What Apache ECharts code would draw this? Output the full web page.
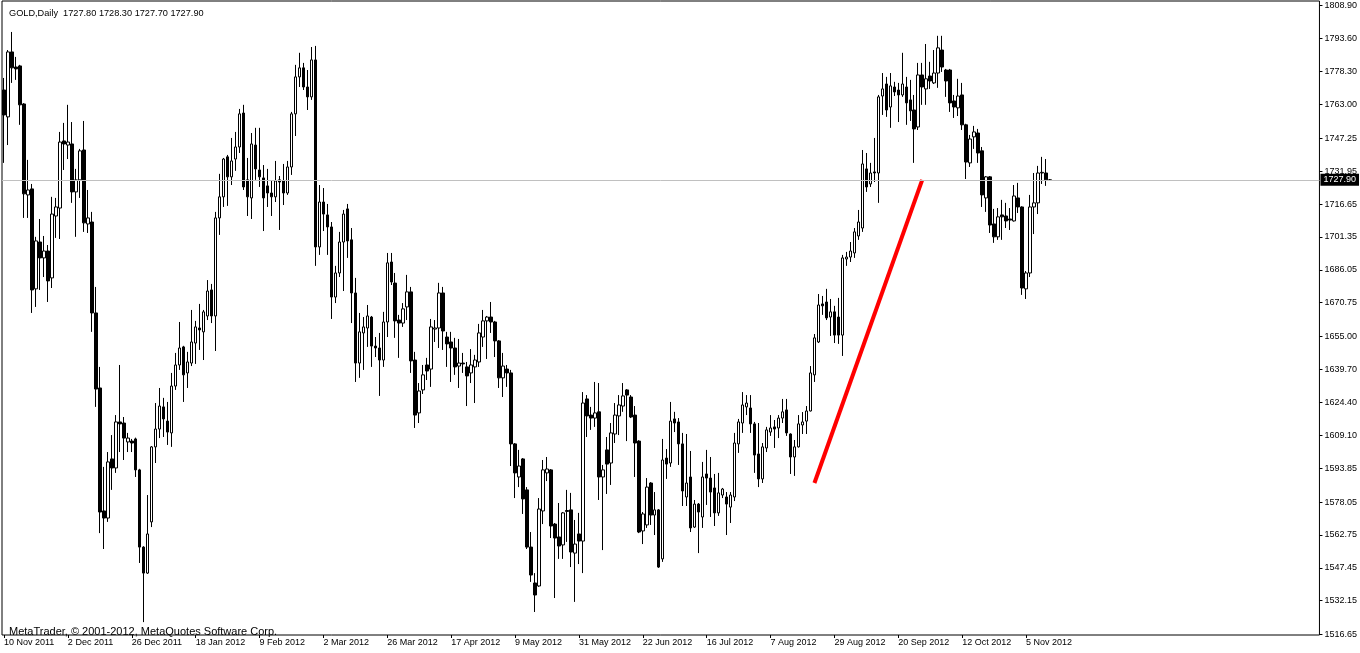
<!DOCTYPE html>
<html>
<head>
<meta charset="utf-8">
<script src="https://cdn.jsdelivr.net/npm/echarts@6.0.0/dist/echarts.min.js"></script>
<style>
html,body{margin:0;padding:0;background:#fff;}
#chart{width:1360px;height:653px;}
</style>
</head>
<body>
<div id="chart"></div>
<script>
const symbolTitle = "GOLD,Daily  1727.80 1728.30 1727.70 1727.90";
const footerText = "MetaTrader, \u00A9 2001-2012, MetaQuotes Software Corp.";
const dateLabels = ["10 Nov 2011","2 Dec 2011","26 Dec 2011","18 Jan 2012","9 Feb 2012","2 Mar 2012","26 Mar 2012","17 Apr 2012","9 May 2012","31 May 2012","22 Jun 2012","16 Jul 2012","7 Aug 2012","29 Aug 2012","20 Sep 2012","12 Oct 2012","5 Nov 2012"];
const priceTicks = [1808.90,1793.60,1778.30,1763.00,1747.25,1731.95,1716.65,1701.35,1686.05,1670.75,1655.00,1639.70,1624.40,1609.10,1593.85,1578.05,1562.75,1547.45,1532.15,1516.65];
const lastPrice = 1727.90;
const trendLine = [[203,1586.9],[230,1727.9]];

const opens = [1769.7,1757.2,1787.4,1780.4,1780.9,1763.2,1720.9,1723.7,1677.2,1699.0,1691.6,1694.8,1682.3,1711.1,1714.8,1746.0,1744.1,1744.6,1722.3,1727.9,1741.8,1707.4,1708.3,1666.0,1631.1,1573.9,1570.6,1598.1,1593.9,1615.3,1614.8,1606.0,1606.4,1607.4,1593.0,1557.1,1545.0,1568.8,1603.7,1612.0,1622.3,1615.7,1610.2,1632.0,1641.8,1650.2,1638.1,1642.7,1652.0,1659.0,1657.2,1664.6,1676.7,1664.6,1710.2,1720.0,1738.6,1729.3,1737.6,1743.2,1759.0,1727.9,1719.5,1744.1,1732.5,1728.8,1725.1,1721.8,1720.0,1727.9,1727.4,1721.8,1733.9,1758.6,1775.8,1780.0,1771.1,1766.5,1783.7,1696.7,1717.6,1711.6,1706.0,1673.4,1684.6,1699.0,1714.4,1700.0,1675.3,1642.7,1656.7,1659.0,1664.1,1650.6,1649.7,1644.1,1661.8,1689.7,1679.9,1662.7,1661.3,1668.8,1675.8,1644.1,1619.5,1630.2,1641.8,1639.9,1658.5,1659.0,1675.3,1654.8,1652.5,1649.7,1641.3,1642.7,1640.9,1638.1,1640.9,1643.2,1654.8,1662.3,1664.1,1661.8,1653.0,1635.8,1639.9,1638.1,1605.1,1589.7,1598.1,1583.7,1557.1,1540.4,1539.0,1573.9,1591.6,1593.0,1567.8,1561.8,1558.1,1574.1,1574.4,1554.3,1563.2,1559.9,1626.0,1618.5,1617.1,1620.0,1589.7,1602.3,1596.2,1609.7,1618.1,1622.7,1630.2,1626.9,1618.5,1606.4,1564.6,1567.4,1586.9,1572.0,1574.4,1551.6,1598.5,1596.2,1616.7,1615.3,1605.1,1580.4,1589.7,1566.4,1577.1,1571.1,1591.1,1589.2,1584.6,1573.0,1581.3,1580.4,1575.7,1580.4,1605.1,1614.8,1622.3,1621.8,1614.4,1600.4,1588.8,1603.2,1610.6,1613.0,1612.5,1617.1,1620.9,1609.7,1599.0,1603.7,1613.9,1615.7,1620.4,1637.2,1652.5,1670.2,1671.1,1664.1,1666.5,1664.1,1655.7,1691.1,1692.0,1693.9,1701.8,1705.5,1733.0,1726.0,1731.6,1731.1,1766.9,1772.5,1761.8,1771.1,1769.7,1767.4,1771.1,1765.1,1760.4,1752.5,1776.7,1770.2,1776.2,1773.0,1777.6,1788.3,1779.0,1779.0,1764.6,1761.4,1767.4,1753.5,1735.8,1747.9,1749.7,1741.4,1719.5,1729.3,1707.4,1701.4,1711.6,1711.1,1709.7,1708.8,1719.5,1715.3,1677.2,1684.6,1715.3,1717.2,1731.1,1731.1,1727.8];

const closes = [1758.1,1787.4,1780.0,1779.5,1762.8,1721.4,1723.2,1676.7,1699.5,1691.6,1694.8,1680.9,1712.0,1715.3,1745.5,1744.6,1745.5,1722.3,1727.9,1741.4,1707.9,1710.2,1666.0,1630.6,1573.4,1570.6,1596.7,1593.9,1615.3,1614.4,1607.8,1607.8,1605.5,1593.0,1557.1,1545.0,1563.2,1603.7,1612.0,1622.7,1616.7,1610.6,1632.0,1641.8,1649.7,1637.2,1643.2,1652.5,1659.5,1658.1,1666.5,1676.2,1664.6,1710.2,1720.0,1737.6,1729.3,1736.7,1743.2,1758.6,1724.6,1720.0,1744.6,1733.0,1729.3,1719.5,1721.8,1720.0,1727.4,1726.9,1721.8,1733.9,1758.6,1775.8,1780.0,1771.1,1766.5,1783.7,1696.7,1717.6,1712.0,1706.0,1673.4,1684.6,1699.0,1712.0,1699.5,1675.3,1642.7,1657.2,1659.5,1664.6,1650.6,1649.7,1644.1,1661.8,1689.3,1680.4,1662.3,1661.3,1667.9,1675.8,1643.7,1618.5,1629.7,1637.2,1639.0,1659.5,1659.0,1675.3,1657.6,1651.6,1649.7,1640.9,1642.7,1642.3,1636.7,1641.8,1644.1,1656.7,1662.3,1664.1,1661.8,1653.0,1635.8,1641.3,1638.1,1605.1,1591.6,1594.8,1579.5,1557.1,1544.1,1534.8,1574.8,1593.0,1593.4,1566.9,1561.3,1557.6,1573.0,1573.7,1554.8,1558.5,1559.9,1624.1,1618.1,1617.1,1619.5,1589.7,1593.0,1595.7,1610.2,1618.5,1623.2,1627.4,1627.8,1617.6,1605.5,1564.1,1572.5,1585.0,1572.0,1574.4,1547.8,1597.6,1595.7,1615.7,1614.8,1605.1,1583.2,1586.9,1566.0,1577.1,1573.4,1589.7,1589.2,1582.7,1573.0,1582.3,1584.1,1577.1,1581.3,1605.5,1615.3,1623.2,1624.1,1614.4,1599.9,1588.8,1603.7,1611.6,1612.5,1612.0,1617.1,1620.0,1610.2,1599.0,1603.7,1614.4,1615.3,1620.4,1638.1,1654.4,1669.7,1669.3,1663.7,1666.5,1655.7,1655.7,1691.6,1692.0,1694.8,1703.7,1708.3,1735.3,1724.6,1731.1,1731.1,1766.5,1770.2,1760.4,1771.6,1768.8,1767.4,1772.5,1763.7,1760.0,1751.6,1776.7,1771.1,1774.9,1773.9,1777.6,1789.3,1780.4,1773.9,1763.7,1761.8,1766.9,1753.5,1736.2,1746.9,1750.2,1740.4,1720.9,1729.3,1706.9,1701.4,1710.7,1710.7,1708.8,1709.2,1720.4,1715.3,1677.6,1684.6,1715.3,1717.2,1731.1,1731.4,1727.9,1727.9];

const lows = [1735.8,1744.1,1773.0,1774.4,1753.5,1710.2,1710.2,1666.0,1668.8,1676.7,1682.7,1671.1,1677.6,1700.9,1700.4,1732.5,1737.6,1717.2,1701.4,1719.5,1703.7,1703.2,1657.2,1622.3,1563.6,1556.2,1568.8,1583.7,1591.6,1601.3,1597.6,1601.3,1601.3,1589.7,1549.7,1522.2,1544.6,1566.4,1596.2,1607.8,1608.3,1604.6,1603.7,1630.2,1639.5,1624.6,1631.1,1641.3,1642.3,1648.8,1644.1,1662.7,1661.3,1648.3,1702.3,1715.3,1715.8,1725.5,1732.1,1740.4,1723.2,1711.1,1709.7,1727.9,1724.6,1704.1,1715.3,1711.1,1717.6,1704.6,1716.2,1720.9,1730.2,1748.3,1771.1,1769.7,1760.4,1765.1,1687.9,1693.0,1704.1,1693.0,1663.2,1670.6,1682.7,1676.2,1691.6,1661.3,1633.9,1635.8,1639.5,1650.2,1640.9,1645.5,1627.4,1640.9,1654.8,1679.0,1654.4,1645.1,1659.5,1662.7,1638.1,1612.5,1614.8,1628.3,1634.8,1631.6,1652.5,1649.7,1648.8,1640.9,1633.9,1637.2,1631.1,1638.1,1622.7,1633.4,1624.1,1640.9,1650.2,1644.6,1656.7,1645.5,1631.1,1626.9,1631.6,1594.8,1579.9,1585.0,1572.5,1556.2,1540.9,1526.9,1538.6,1567.8,1587.8,1561.3,1533.4,1551.6,1551.6,1559.5,1547.8,1531.6,1549.2,1545.0,1608.3,1611.6,1613.0,1579.0,1555.7,1581.8,1586.0,1605.5,1609.2,1620.0,1606.4,1617.1,1589.7,1563.6,1558.5,1566.0,1567.4,1562.7,1547.4,1550.2,1588.8,1594.4,1610.6,1595.3,1576.2,1576.2,1564.1,1566.0,1554.3,1566.0,1576.7,1571.1,1566.9,1571.6,1579.9,1562.7,1568.3,1578.5,1600.9,1610.2,1618.5,1610.2,1591.6,1585.0,1586.9,1601.3,1608.8,1603.2,1607.8,1614.8,1608.8,1591.1,1590.2,1603.4,1609.7,1609.7,1620.2,1633.9,1652.0,1665.1,1662.7,1655.3,1652.0,1651.6,1646.0,1687.9,1689.7,1691.6,1700.0,1703.7,1722.3,1724.6,1726.9,1717.2,1758.1,1757.2,1752.1,1766.9,1754.8,1766.5,1753.5,1755.3,1735.8,1751.1,1762.8,1762.8,1770.2,1772.5,1770.7,1778.1,1766.5,1759.5,1756.7,1757.6,1751.1,1728.3,1733.9,1742.3,1735.8,1715.3,1713.0,1703.2,1698.6,1700.0,1700.0,1705.5,1704.6,1708.5,1712.5,1674.4,1672.5,1682.7,1702.7,1712.0,1726.0,1725.1,1727.7];

const highs = [1775.3,1788.3,1796.7,1785.1,1781.4,1763.6,1737.2,1726.0,1701.4,1709.7,1701.8,1697.6,1720.0,1719.5,1750.2,1754.4,1762.8,1754.8,1733.0,1742.3,1755.3,1723.2,1713.0,1678.1,1640.9,1594.4,1601.3,1609.2,1618.5,1641.8,1617.6,1610.2,1607.4,1608.0,1593.5,1557.5,1581.3,1604.1,1624.1,1631.1,1626.5,1624.6,1638.1,1647.4,1661.8,1650.7,1647.9,1667.4,1662.3,1670.2,1667.4,1681.3,1679.5,1713.0,1730.7,1738.1,1739.5,1747.4,1750.2,1760.9,1762.8,1738.1,1749.7,1752.1,1752.1,1734.8,1733.0,1727.4,1736.7,1729.7,1735.3,1736.7,1759.5,1781.4,1787.0,1782.3,1779.0,1789.7,1790.2,1725.5,1724.1,1716.7,1708.3,1687.9,1703.7,1713.9,1716.7,1705.5,1682.3,1666.0,1664.1,1669.7,1664.6,1654.8,1656.7,1666.5,1693.9,1693.9,1684.6,1665.1,1670.6,1683.7,1678.1,1647.9,1633.4,1641.8,1645.1,1663.2,1662.7,1680.0,1678.1,1657.2,1657.2,1654.4,1653.9,1647.4,1643.2,1649.2,1646.5,1660.9,1667.4,1664.6,1671.1,1662.3,1653.4,1647.4,1641.8,1639.5,1605.5,1602.3,1598.5,1585.0,1564.1,1545.0,1579.9,1597.6,1599.0,1593.4,1568.3,1577.6,1573.4,1583.7,1582.3,1569.7,1573.0,1629.2,1627.8,1622.3,1633.9,1633.4,1595.3,1608.3,1614.8,1624.1,1627.8,1633.4,1630.6,1627.8,1622.7,1606.8,1573.4,1589.2,1587.3,1582.7,1574.8,1607.4,1602.7,1624.6,1620.0,1617.1,1610.2,1609.7,1601.8,1579.0,1577.6,1596.7,1602.3,1599.0,1591.1,1591.6,1584.6,1582.7,1582.7,1610.2,1616.7,1629.2,1627.8,1627.8,1615.3,1614.8,1605.5,1613.0,1618.5,1616.2,1618.5,1626.0,1626.0,1610.0,1606.9,1618.5,1619.9,1622.7,1641.3,1656.2,1674.8,1673.9,1677.2,1672.5,1669.3,1673.0,1693.0,1694.4,1699.0,1705.5,1713.9,1741.8,1740.4,1735.8,1747.4,1767.4,1777.6,1775.8,1777.6,1773.5,1773.0,1787.0,1775.8,1774.4,1767.4,1782.3,1782.3,1791.1,1782.8,1788.3,1794.9,1794.9,1779.5,1779.5,1767.4,1774.9,1773.0,1754.0,1748.8,1753.0,1751.6,1743.2,1729.7,1729.7,1714.4,1714.8,1718.6,1717.2,1714.8,1725.5,1726.5,1715.6,1685.5,1720.9,1731.1,1734.4,1738.6,1737.6,1728.3];

const SLOTS = 330;
const categories = [];
for (let i = 0; i < SLOTS; i++) categories.push(String(i));
const ohlc = opens.map((o, i) => [o, closes[i], lows[i], highs[i]]);

const FONT = "'Liberation Sans', Arial, sans-serif";
const chart = echarts.init(document.getElementById('chart'), null, {renderer: 'canvas'});
chart.setOption({
  animation: false,
  backgroundColor: '#ffffff',
  title: [
    {text: symbolTitle, left: 4, top: 4, textStyle: {fontSize: 9.2, fontWeight: 'normal', color: '#000', fontFamily: FONT}},
    {text: footerText, left: 4, top: 621, textStyle: {fontSize: 11, fontWeight: 'normal', color: '#000', fontFamily: FONT}}
  ],
  grid: {left: 2, right: 38, top: 1, bottom: 18, show: true, borderColor: '#000', borderWidth: 1, backgroundColor: 'transparent'},
  xAxis: {
    type: 'category',
    data: categories,
    boundaryGap: true,
    axisLine: {show: false},
    splitLine: {show: false},
    axisTick: {show: true, alignWithLabel: true, length: 3, lineStyle: {color: '#000'},
      interval: (idx) => idx % 16 === 0 && idx / 16 < dateLabels.length},
    axisLabel: {
      show: true, color: '#000', fontSize: 9, fontFamily: FONT, margin: 3, align: 'left',
      interval: (idx) => idx % 16 === 0 && idx / 16 < dateLabels.length,
      formatter: (v, idx) => dateLabels[idx / 16] || ''
    }
  },
  yAxis: {
    type: 'value',
    position: 'right',
    min: 1516.2,
    max: 1811.1,
    scale: true,
    axisLine: {show: false},
    splitLine: {show: false},
    axisTick: {show: true, length: 3, customValues: priceTicks, lineStyle: {color: '#000'}},
    axisLabel: {show: true, customValues: priceTicks, color: '#000', fontSize: 9, fontFamily: FONT, margin: 5,
      formatter: (v) => Number(v).toFixed(2)}
  },
  series: [
    {
      type: 'candlestick',
      data: ohlc,
      barWidth: 3,
      itemStyle: {color: '#ffffff', color0: '#000000', borderColor: '#000000', borderColor0: '#000000', borderColorDoji: '#000000', borderWidth: 1},
      markLine: {
        silent: true,
        symbol: ['none', 'none'],
        animation: false,
        lineStyle: {color: '#c0c0c0', width: 1, type: 'solid'},
        label: {show: true, position: 'end', distance: 1, formatter: lastPrice.toFixed(2),
          backgroundColor: '#000', color: '#fff', fontSize: 9, fontFamily: FONT, padding: [2, 3, 1, 3]},
        data: [{yAxis: lastPrice}]
      },
      z: 3
    },
    {
      type: 'line',
      data: trendLine,
      symbol: 'none',
      lineStyle: {color: '#ff0000', width: 4, cap: 'butt'},
      z: 4
    }
  ]
});
</script>
</body>
</html>
